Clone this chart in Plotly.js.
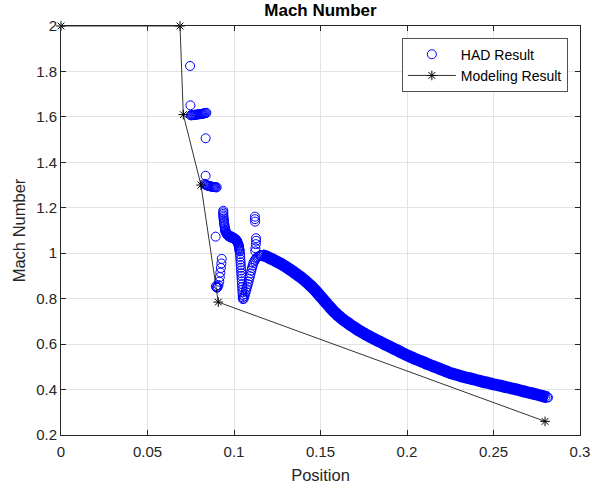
<!DOCTYPE html>
<html>
<head>
<meta charset="utf-8">
<script src="https://cdn.plot.ly/plotly-3.0.1.min.js"></script>
<style>html,body{margin:0;padding:0;background:#fff;}#chart{width:592px;height:491px;}</style>
</head>
<body>
<div id="chart"></div>
<script>
// HAD Result, scattered part near the shock region
const hadScatterX = [
  0.0746,0.0748,
  0.0750,0.0755,0.0760,0.0765,0.0770,0.0775,0.0780,0.0785,0.0790,0.0795,0.0800,0.0805,0.0810,0.0815,0.0820,0.0825,0.0830,0.0835,0.0840,
  0.0836,0.0836,
  0.0830,0.0835,0.0840,0.0845,0.0850,0.0855,0.0860,0.0865,0.0870,0.0875,0.0880,0.0885,0.0890,0.0895,0.0900,
  0.0894,
  0.0895,0.0898,0.0902,0.0906,0.0910,0.0915,0.0918,0.0921,0.0924,0.0927,0.0929,
  0.0938,0.0938,0.0938,0.0938,0.0939,0.0940,0.0941,0.0942,0.0943,0.0945,0.0946,0.0948,0.0950,0.0952,0.0955,
  0.0957,0.0959,0.0961,0.0964,0.0967,0.0970,0.0973,0.0977,0.0980,0.0984,0.0987,0.0991,0.0994,0.0998,0.1001,
  0.1005,0.1008,0.1011,0.1014,0.1017,0.1020,0.1022,0.1024,0.1026,0.1028,0.1029,0.1030,0.1031,0.1032,0.1033,
  0.0948,0.0955,0.0962,0.0970,0.0980,0.0990,0.1000,0.1010,0.1018,
  0.1035,0.1036,0.1037,0.1038,0.1039,0.1040,0.1041,0.1042,0.1043,0.1044,0.1045,0.1046,0.1047,0.1048,0.1049,0.1050,0.1051,0.1052,
  0.1056,0.1060,0.1064,0.1068,0.1072,0.1076,0.1080,0.1084,0.1088,0.1092,0.1096,0.1100,0.1104,0.1108,0.1112,0.1117,0.1122,0.1128,0.1135,0.1142,0.1150,0.1155,
  0.1121,0.1121,0.1122,0.1127,0.1128,0.1126,0.1124,0.1123
];
const hadScatterY = [
  1.824,1.651,
  1.607,1.607,1.608,1.608,1.609,1.609,1.610,1.610,1.611,1.611,1.612,1.612,1.613,1.613,1.614,1.615,1.616,1.617,1.618,
  1.506,1.341,
  1.305,1.302,1.300,1.298,1.297,1.296,1.295,1.294,1.293,1.292,1.292,1.291,1.291,1.290,1.290,
  1.073,
  0.855,0.850,0.848,0.852,0.860,0.875,0.895,0.915,0.935,0.955,0.975,
  1.187,1.180,1.173,1.166,1.159,1.152,1.145,1.138,1.131,1.124,1.117,1.110,1.103,1.096,1.090,
  1.087,1.084,1.081,1.079,1.077,1.075,1.073,1.072,1.070,1.069,1.068,1.067,1.066,1.065,1.064,
  1.062,1.060,1.058,1.055,1.052,1.049,1.045,1.041,1.037,1.033,1.028,1.023,1.018,1.013,1.008,
  1.098,1.090,1.084,1.080,1.076,1.072,1.068,1.062,1.055,
  0.996,0.984,0.972,0.960,0.948,0.936,0.924,0.912,0.900,0.888,0.876,0.864,0.852,0.840,0.828,0.816,0.806,0.798,
  0.800,0.810,0.820,0.831,0.842,0.853,0.864,0.875,0.887,0.899,0.911,0.923,0.935,0.946,0.956,0.964,0.971,0.977,0.982,0.986,0.989,0.991,
  1.161,1.150,1.139,1.066,1.055,1.040,1.022,1.008
];

// HAD Result, dense smooth part downstream
const hadCurveX = [
  0.116,0.117,0.118,0.119,0.120,0.121,0.122,0.123,0.124,0.125,0.126,0.127,0.128,0.129,0.130,
  0.131,0.132,0.133,0.134,0.135,0.136,0.137,0.138,0.139,0.140,0.141,0.142,0.143,0.144,0.145,
  0.146,0.147,0.148,0.149,0.150,0.151,0.152,0.153,0.154,0.155,0.156,0.157,0.158,0.159,0.160,
  0.161,0.162,0.163,0.164,0.165,0.166,0.167,0.168,0.169,0.170,0.171,0.172,0.173,0.174,0.175,
  0.176,0.177,0.178,0.179,0.180,0.181,0.182,0.183,0.184,0.185,0.186,0.187,0.188,0.189,0.190,
  0.191,0.192,0.193,0.194,0.195,0.196,0.197,0.198,0.199,0.200,0.201,0.202,0.203,0.204,0.205,
  0.206,0.207,0.208,0.209,0.210,0.211,0.212,0.213,0.214,0.215,0.216,0.217,0.218,0.219,0.220,
  0.221,0.222,0.223,0.224,0.225,0.226,0.227,0.228,0.229,0.230,0.231,0.232,0.233,0.234,0.235,
  0.236,0.237,0.238,0.239,0.240,0.241,0.242,0.243,0.244,0.245,0.246,0.247,0.248,0.249,0.250,
  0.251,0.252,0.253,0.254,0.255,0.256,0.257,0.258,0.259,0.260,0.261,0.262,0.263,0.264,0.265,
  0.266,0.267,0.268,0.269,0.270,0.271,0.272,0.273,0.274,0.275,0.276,0.277,0.278,0.279,0.280,
  0.281,0.2815
];
const hadCurveY = [
  0.992,0.990,0.988,0.985,0.981,0.977,0.974,0.970,0.966,0.962,0.958,0.954,0.950,0.945,0.940,
  0.935,0.930,0.925,0.920,0.914,0.909,0.903,0.898,0.892,0.886,0.880,0.873,0.866,0.859,0.852,
  0.844,0.836,0.828,0.819,0.810,0.802,0.793,0.784,0.775,0.767,0.758,0.750,0.742,0.735,0.727,
  0.721,0.714,0.708,0.702,0.697,0.692,0.686,0.681,0.676,0.671,0.666,0.661,0.657,0.652,0.648,
  0.643,0.639,0.635,0.631,0.627,0.623,0.619,0.615,0.612,0.608,0.604,0.600,0.596,0.593,0.589,
  0.585,0.581,0.577,0.574,0.570,0.566,0.562,0.558,0.555,0.551,0.547,0.544,0.541,0.537,0.534,
  0.531,0.528,0.525,0.522,0.519,0.515,0.512,0.509,0.506,0.503,0.500,0.497,0.494,0.491,0.488,
  0.485,0.482,0.479,0.476,0.473,0.471,0.468,0.466,0.464,0.462,0.459,0.457,0.455,0.453,0.451,
  0.450,0.448,0.446,0.444,0.442,0.440,0.438,0.436,0.434,0.432,0.431,0.429,0.427,0.425,0.423,
  0.422,0.420,0.418,0.417,0.415,0.413,0.411,0.410,0.408,0.406,0.404,0.403,0.401,0.399,0.397,
  0.395,0.393,0.391,0.389,0.387,0.385,0.384,0.382,0.380,0.378,0.376,0.374,0.372,0.370,0.368,
  0.366,0.365
];

// Modeling Result
const modelX = [0, 0.0688, 0.0707, 0.0809, 0.0909, 0.2798];
const modelY = [2, 2, 1.61, 1.30, 0.785, 0.26];

// Axis ticks
const xTickVals = [0, 0.05, 0.1, 0.15, 0.2, 0.25, 0.3];
const xTickText = ['0', '0.05', '0.1', '0.15', '0.2', '0.25', '0.3'];
const yTickVals = [0.2, 0.4, 0.6, 0.8, 1, 1.2, 1.4, 1.6, 1.8, 2];
const yTickText = ['0.2', '0.4', '0.6', '0.8', '1', '1.2', '1.4', '1.6', '1.8', '2'];

const hadX = hadScatterX.concat(hadCurveX);
const hadY = hadScatterY.concat(hadCurveY);

const axisColor = '#262626';
const fontFam = 'Liberation Sans, Arial, Helvetica, sans-serif';
const blue = '#0000ff';

const traces = [
  { // densely packed circles of the downstream part merge into a solid band
    x: hadCurveX, y: hadCurveY, type: 'scatter', mode: 'lines',
    line: {color: blue, width: 12, shape: 'linear', simplify: false},
    showlegend: false, hoverinfo: 'skip'
  },
  {
    x: hadX, y: hadY, type: 'scatter', mode: 'markers', name: 'HAD Result',
    marker: {symbol: 'circle-open', size: 9, color: blue, line: {width: 1, color: blue}}
  },
  {
    x: modelX, y: modelY, type: 'scatter', mode: 'lines+markers', name: 'Modeling Result',
    line: {color: '#000000', width: 0.8},
    marker: {symbol: 'asterisk-open', size: 8, color: '#000000', line: {width: 1, color: '#000000'}},
    cliponaxis: false
  }
];

const commonAxis = {
  showline: true, linecolor: axisColor, linewidth: 1, mirror: 'ticks',
  ticks: 'inside', ticklen: 5, tickwidth: 1, tickcolor: axisColor,
  showgrid: true, gridcolor: '#e3e3e3', gridwidth: 1, zeroline: false,
  tickfont: {family: fontFam, size: 15, color: axisColor}
};

const layout = {
  width: 592, height: 491,
  margin: {l: 61, r: 12, t: 26, b: 56},
  paper_bgcolor: '#ffffff', plot_bgcolor: '#ffffff',
  font: {family: fontFam, color: axisColor},
  title: {text: '<b>Mach Number</b>', font: {family: fontFam, size: 17, color: '#000000'},
          x: 0.5, xref: 'paper', y: 0.979, yref: 'container', yanchor: 'middle'},
  xaxis: Object.assign({}, commonAxis, {
    range: [0, 0.3], tickvals: xTickVals, ticktext: xTickText, ticklabelstandoff: 3,
    title: {text: 'Position', font: {family: fontFam, size: 16.5, color: axisColor}, standoff: 10}
  }),
  yaxis: Object.assign({}, commonAxis, {
    range: [0.2, 2], tickvals: yTickVals, ticktext: yTickText,
    title: {text: 'Mach Number', font: {family: fontFam, size: 16.5, color: axisColor}, standoff: 6}
  }),
  legend: {
    x: 0.977, y: 0.971, xanchor: 'right', yanchor: 'top',
    bgcolor: '#ffffff', bordercolor: axisColor, borderwidth: 0.8,
    font: {family: fontFam, size: 14, color: '#000000'},
    itemwidth: 48, tracegroupgap: 0
  },
  showlegend: true
};

Plotly.newPlot('chart', traces, layout, {staticPlot: true, displayModeBar: false});
</script>
</body>
</html>
